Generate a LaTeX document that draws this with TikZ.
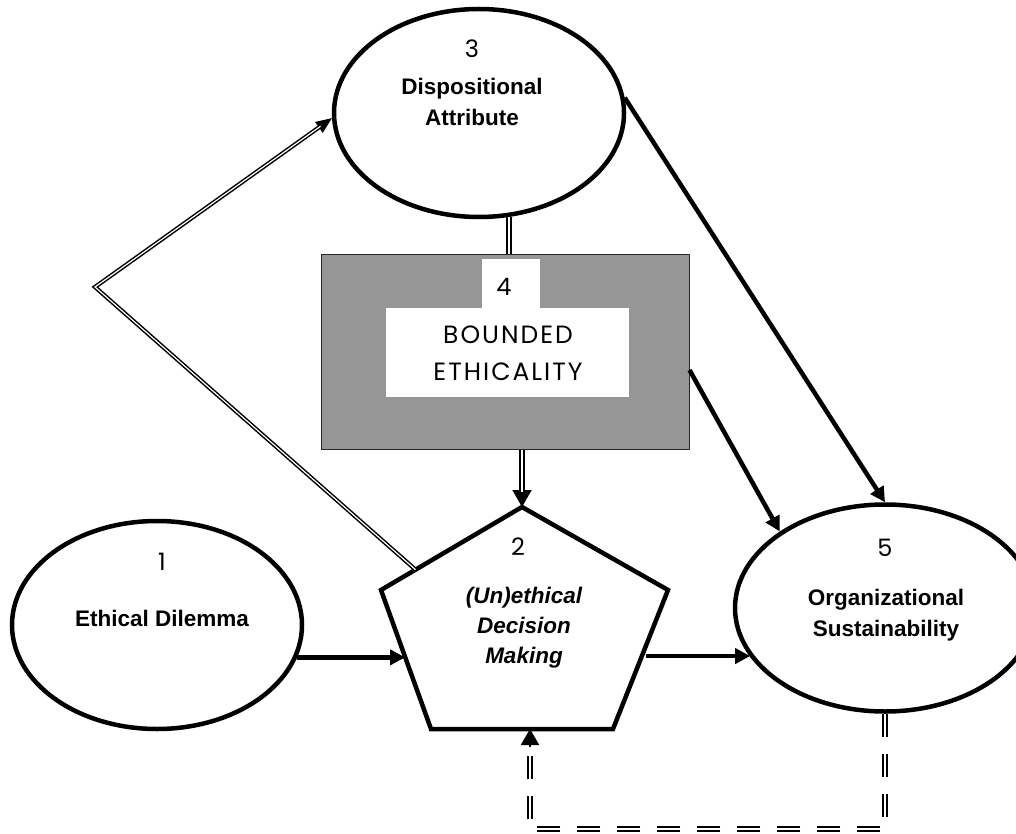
\documentclass[tikz,border=0pt]{standalone}
\usepackage{fontspec}
\setmainfont{Liberation Sans}
\newfontfamily\numfont{Poppins}
\newfontfamily\capfont[LetterSpace=8]{Poppins}
\usetikzlibrary{shapes.geometric,arrows.meta,calc}
\definecolor{boxgray}{RGB}{150,150,150}
\begin{document}
\begin{tikzpicture}[x=1pt,y=-1pt,
  ell/.style={draw, line width=4.5pt, ellipse, inner sep=0pt},
  lbl/.style={font=\fontsize{22.5}{31}\selectfont\bfseries, align=center, inner sep=0pt},
  num/.style={font=\fontsize{24}{26}\selectfont\numfont, inner sep=0pt},
  conn/.style={line width=4.5pt, -{Triangle[length=15pt,width=15pt]}},
  dbl/.style={double, double distance=2pt, line width=2.2pt},
  thindbl/.style={double, double distance=1.2pt, line width=1.5pt, line join=miter},
]
\useasboundingbox (0,0) rectangle (1016,834);

% ellipses
\node[ell, minimum width=290pt, minimum height=208pt] (e3) at (479,113) {};
\node[ell, minimum width=290pt, minimum height=208pt] (e1) at (157,625) {};
\node[ell, minimum width=300pt, minimum height=207pt] (e5) at (885,608) {};

% bounded ethicality box
\node[draw=black!85, line width=1pt, fill=boxgray, minimum width=368pt, minimum height=195pt, inner sep=0pt] (r4) at (505,351.5) {};
\fill[white] (386,308) rectangle (629,397);
\fill[white] (482,259) rectangle (540,309);

% pentagon
\coordinate (pT) at (522,507);
\coordinate (pUL) at (381,590);
\coordinate (pLL) at (431,729);
\coordinate (pLR) at (613,729);
\coordinate (pUR) at (668,590);
\draw[line width=4.5pt, line join=miter] (pT) -- (pUR) -- (pLR) -- (pLL) -- (pUL) -- cycle;
\coordinate (pLin) at ($(pUL)!0.482!(pLL)$);
\coordinate (pRout) at ($(pUR)!0.475!(pLR)$);
\coordinate (pA) at ($(pT)!0.755!(pUL)$);
\coordinate (pB) at ($(pLL)!0.544!(pLR)$);
\coordinate (bend) at (95,287);
\coordinate (fbB) at (0,829);

% texts
\node[num] (n3) at (472,49) {3};
\node[lbl] (t3) at (472,102) {Dispositional\\Attribute};
\node[num] (n1) at (162,562) {1};
\node[lbl] (t1) at (162,618) {Ethical Dilemma};
\node[num] (n5) at (885,548) {5};
\node[lbl] (t5) at (886,615) {Organizational\\Sustainability};
\node[num] (n2) at (518,547) {2};
\node[lbl, font=\fontsize{22.5}{30}\selectfont\bfseries\itshape] (t2) at (524,628) {(Un)ethical\\Decision\\Making};
\node[num] (n4) at (504,287) {4};
\node[font=\fontsize{25}{37}\selectfont\capfont, align=center, inner sep=0pt] (t4) at (508,353) {BOUNDED\\ETHICALITY};

% connectors
\draw[conn] (e1.-13) -- (e1.-13 -| pLin);
\draw[conn, shorten <=4pt] (pRout) -- (pRout -| e5.200);
\draw[conn] (e3.6) -- (e5.north);
\draw[conn] ([yshift=-18.5pt]r4.east) -- (e5.144.5);

% 3 -- 4
\draw[dbl] (e3.-74.6) -- (e3.-74.6 |- r4.north);
% 4 -> 2
\draw[line width=2pt, -{Triangle[length=17pt,width=19pt]}] (pT |- r4.south) -- (pT);
\draw[dbl, shorten >=15pt] (pT |- r4.south) -- (pT);

% 2 -> 3 via bend
\draw[line width=1.5pt, -{Triangle[length=16pt,width=13pt]}] (bend) -- (e3.182);
\draw[thindbl, shorten >=14pt] (pA) -- (bend) -- (e3.182);

% feedback 5 -> 2
\draw[dbl, line join=miter, dash pattern=on 23pt off 17pt, shorten >=16pt] (e5.south) -- (e5.south |- fbB) -- (pB |- fbB) -- (pB);
\draw[line width=2pt, -{Triangle[length=16pt,width=18pt]}] ($(pB)+(0,18)$) -- (pB);
\end{tikzpicture}
\end{document}
